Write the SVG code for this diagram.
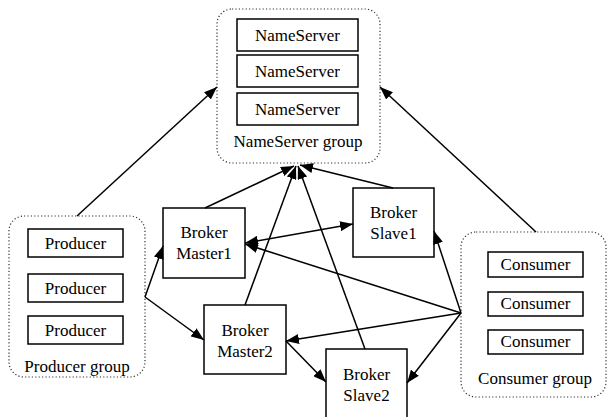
<svg xmlns="http://www.w3.org/2000/svg" width="607" height="417" viewBox="0 0 607 417" font-family="'Liberation Serif', 'Times New Roman', Times, serif">
<style>
.grp{fill:none;stroke:#333;stroke-width:1.2;stroke-dasharray:1.2 2.2}
.box{fill:#fff;stroke:#000;stroke-width:1.5}
.t{font-family:'Liberation Serif','Times New Roman',Times,serif;font-size:17px;fill:#000;text-anchor:middle}
.c{fill:none;stroke:#000;stroke-width:1.5}
</style>
<defs>
<marker id="ah" markerUnits="userSpaceOnUse" markerWidth="14" markerHeight="10" refX="13" refY="5" orient="auto-start-reverse">
<path d="M0,0 L13,5 L0,10 Z" fill="#000"/>
</marker>
</defs>
<rect width="607" height="417" fill="#fff"/>
<g id="nameserver-group">
<rect class="grp" x="217" y="9" width="163" height="154" rx="15"/>
<rect class="box" x="237" y="19" width="121" height="32"/>
<text class="t" x="297.5" y="41">NameServer</text>
<rect class="box" x="237" y="55" width="121" height="32"/>
<text class="t" x="297.5" y="77">NameServer</text>
<rect class="box" x="237" y="93" width="121" height="32"/>
<text class="t" x="297.5" y="115">NameServer</text>
<text class="t" x="298" y="147">NameServer group</text>
</g>
<g id="producer-group">
<rect class="grp" x="9" y="216" width="136" height="161" rx="15"/>
<rect class="box" x="28" y="229" width="95" height="28"/>
<text class="t" x="75.5" y="249">Producer</text>
<rect class="box" x="28" y="274" width="95" height="28"/>
<text class="t" x="75.5" y="294">Producer</text>
<rect class="box" x="28" y="316" width="95" height="28"/>
<text class="t" x="75.5" y="336">Producer</text>
<text class="t" x="77" y="372">Producer group</text>
</g>
<g id="consumer-group">
<rect class="grp" x="461" y="232" width="145" height="165" rx="15"/>
<rect class="box" x="488" y="252" width="95" height="25"/>
<text class="t" x="535.5" y="270">Consumer</text>
<rect class="box" x="488" y="292" width="95" height="24"/>
<text class="t" x="535.5" y="309">Consumer</text>
<rect class="box" x="488" y="330" width="95" height="24"/>
<text class="t" x="535.5" y="347">Consumer</text>
<text class="t" x="535" y="384">Consumer group</text>
</g>
<g id="broker-master1">
<rect class="box" x="163" y="208" width="82" height="70"/>
<text class="t" x="204" y="238">Broker</text>
<text class="t" x="204" y="259">Master1</text>
</g>
<g id="broker-master2">
<rect class="box" x="204" y="305" width="82" height="69"/>
<text class="t" x="245" y="336">Broker</text>
<text class="t" x="245" y="357">Master2</text>
</g>
<g id="broker-slave1">
<rect class="box" x="353" y="188" width="81" height="69"/>
<text class="t" x="393.5" y="218">Broker</text>
<text class="t" x="393.5" y="239">Slave1</text>
</g>
<g id="broker-slave2">
<rect class="box" x="326" y="349" width="81" height="70"/>
<text class="t" x="366.5" y="380">Broker</text>
<text class="t" x="366.5" y="401">Slave2</text>
</g>
<g id="connectors">
<line class="c" x1="77" y1="216" x2="217" y2="87" marker-end="url(#ah)"/>
<line class="c" x1="536" y1="232" x2="380" y2="87" marker-end="url(#ah)"/>
<line class="c" x1="205" y1="208" x2="294" y2="166" marker-end="url(#ah)"/>
<line class="c" x1="245" y1="305" x2="296" y2="166" marker-end="url(#ah)"/>
<line class="c" x1="365" y1="349" x2="298" y2="166" marker-end="url(#ah)"/>
<line class="c" x1="393" y1="188" x2="300" y2="165" marker-end="url(#ah)"/>
<line class="c" x1="145" y1="297" x2="163" y2="246" marker-end="url(#ah)"/>
<line class="c" x1="145" y1="297" x2="204" y2="340" marker-end="url(#ah)"/>
<line class="c" x1="286" y1="341" x2="326" y2="382" marker-end="url(#ah)"/>
<line class="c" x1="245" y1="243" x2="353" y2="224" marker-start="url(#ah)" marker-end="url(#ah)"/>
<line class="c" x1="461" y1="313" x2="434" y2="231" marker-end="url(#ah)"/>
<line class="c" x1="461" y1="313" x2="245" y2="244" marker-end="url(#ah)"/>
<line class="c" x1="461" y1="313" x2="286" y2="341" marker-end="url(#ah)"/>
<line class="c" x1="461" y1="313" x2="407" y2="383" marker-end="url(#ah)"/>
</g>
</svg>
